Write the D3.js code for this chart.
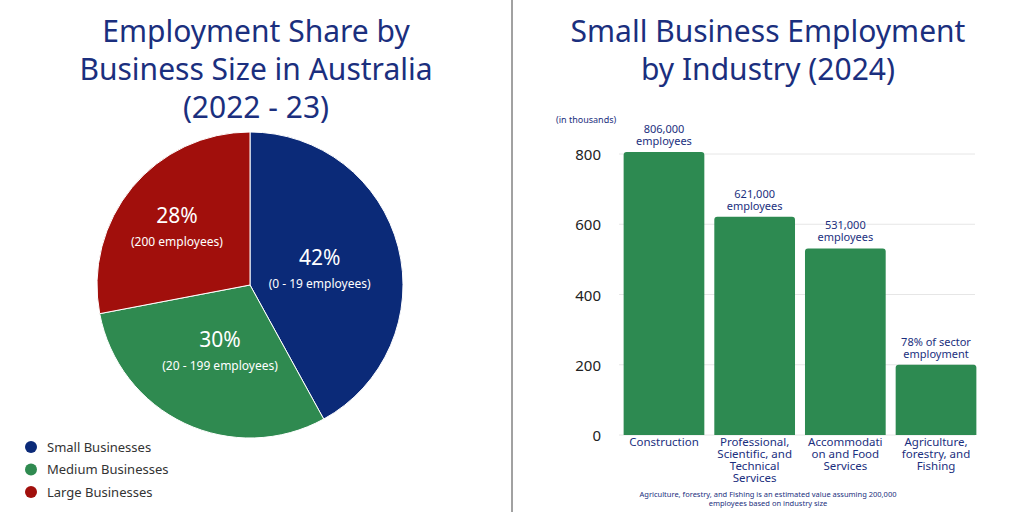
<!DOCTYPE html>
<html>
<head>
<meta charset="utf-8">
<style>
  body { margin: 0; background: #fff; }
  text { font-family: "Noto Sans", sans-serif; }
</style>
</head>
<body>
<svg width="1024" height="512"></svg>
<script src="https://d3js.org/d3.v7.min.js"></script>
<script>
// pie data
var sizeNames = ["Small Businesses", "Medium Businesses", "Large Businesses"];
var sizeShare = [42, 30, 28];
var sizeRanges = ["(0 - 19 employees)", "(20 - 199 employees)", "(200 employees)"];
var sizeColors = ["#0b2a78", "#2f8a50", "#a10f0c"];

// bar data
var industries = [
  ["Construction"],
  ["Professional,", "Scientific, and", "Technical", "Services"],
  ["Accommodati", "on and Food", "Services"],
  ["Agriculture,", "forestry, and", "Fishing"]
];
var employment = [806, 621, 531, 200];
var barNotes = [["806,000", "employees"], ["621,000", "employees"], ["531,000", "employees"], ["78% of sector", "employment"]];
var yTicks = [0, 200, 400, 600, 800];

var navy = "#1b2f7e";
var svg = d3.select("svg");

// divider
svg.append("line").attr("x1", 512).attr("x2", 512).attr("y1", 0).attr("y2", 512)
  .attr("stroke", "#444").attr("stroke-width", 1);

// titles
function title(lines, cx, y0) {
  lines.forEach(function(t, i) {
    svg.append("text").attr("x", cx).attr("y", y0 + i * 38)
      .attr("text-anchor", "middle").attr("fill", navy)
      .attr("font-size", 30).text(t);
  });
}
title(["Employment Share by", "Business Size in Australia", "(2022 - 23)"], 256, 42);
title(["Small Business Employment", "by Industry (2024)"], 768, 42);

// pie
var pg = svg.append("g").attr("transform", "translate(250,285)");
var r = 153;
var pie = d3.pie().sort(null)(sizeShare);
var arc = d3.arc().innerRadius(0).outerRadius(r);
var labelR = [0.47, 0.46, 0.62];
pg.selectAll("path").data(pie).join("path")
  .attr("d", arc).attr("fill", function(d, i) { return sizeColors[i]; })
  .attr("stroke", "#fff").attr("stroke-width", 1);
pie.forEach(function(d, i) {
  var c = d3.arc().innerRadius(r * labelR[i]).outerRadius(r * labelR[i]).centroid(d);
  pg.append("text").attr("x", c[0]).attr("y", c[1] - 2).attr("text-anchor", "middle")
    .attr("fill", "#fff").attr("font-size", 21).text(sizeShare[i] + "%");
  pg.append("text").attr("x", c[0]).attr("y", c[1] + 21).attr("text-anchor", "middle")
    .attr("fill", "#fff").attr("font-size", 12).text(sizeRanges[i]);
});

// legend
sizeNames.forEach(function(n, i) {
  var y = 447 + i * 22.5;
  svg.append("circle").attr("cx", 31).attr("cy", y).attr("r", 6).attr("fill", sizeColors[i]);
  svg.append("text").attr("x", 47).attr("y", y + 4.5).attr("fill", "#333")
    .attr("font-size", 13).text(n);
});

// bars
var x = d3.scaleBand().domain(d3.range(industries.length)).range([620, 980]).paddingInner(0.11).paddingOuter(0.04);
var y = d3.scaleLinear().domain([0, 800]).range([435, 154]);
var bg = svg.append("g");
yTicks.forEach(function(t) {
  bg.append("line").attr("x1", 619).attr("x2", 975).attr("y1", y(t)).attr("y2", y(t))
    .attr("stroke", "#e6e6e6");
  bg.append("text").attr("x", 601).attr("y", y(t) + 6).attr("text-anchor", "end")
    .attr("fill", "#222").attr("font-size", 15).text(t);
});
svg.append("text").attr("x", 556).attr("y", 123).attr("fill", navy)
  .attr("font-size", 9).text("(in thousands)");
employment.forEach(function(v, i) {
  var bx = x(i), bw = x.bandwidth();
  bg.append("path").attr("fill", "#2d8a51")
    .attr("d", "M" + bx + "," + y(0) + "V" + (y(v) + 3) + "q0,-3 3,-3H" + (bx + bw - 3) + "q3,0 3,3V" + y(0) + "Z");
  var cx = bx + bw / 2;
  barNotes[i].forEach(function(t, j) {
    bg.append("text").attr("x", cx).attr("y", y(v) - 19 + j * 12).attr("text-anchor", "middle")
      .attr("fill", navy).attr("font-size", 11).text(t);
  });
  industries[i].forEach(function(t, j) {
    bg.append("text").attr("x", cx).attr("y", y(0) + 11 + j * 12).attr("text-anchor", "middle")
      .attr("fill", navy).attr("font-size", 11.5).text(t);
  });
});
svg.append("text").attr("x", 768).attr("y", 497).attr("text-anchor", "middle").attr("fill", navy)
  .attr("font-size", 7.5).text("Agriculture, forestry, and Fishing is an estimated value assuming 200,000");
svg.append("text").attr("x", 768).attr("y", 506).attr("text-anchor", "middle").attr("fill", navy)
  .attr("font-size", 7.5).text("employees based on industry size");
</script>
</body>
</html>
